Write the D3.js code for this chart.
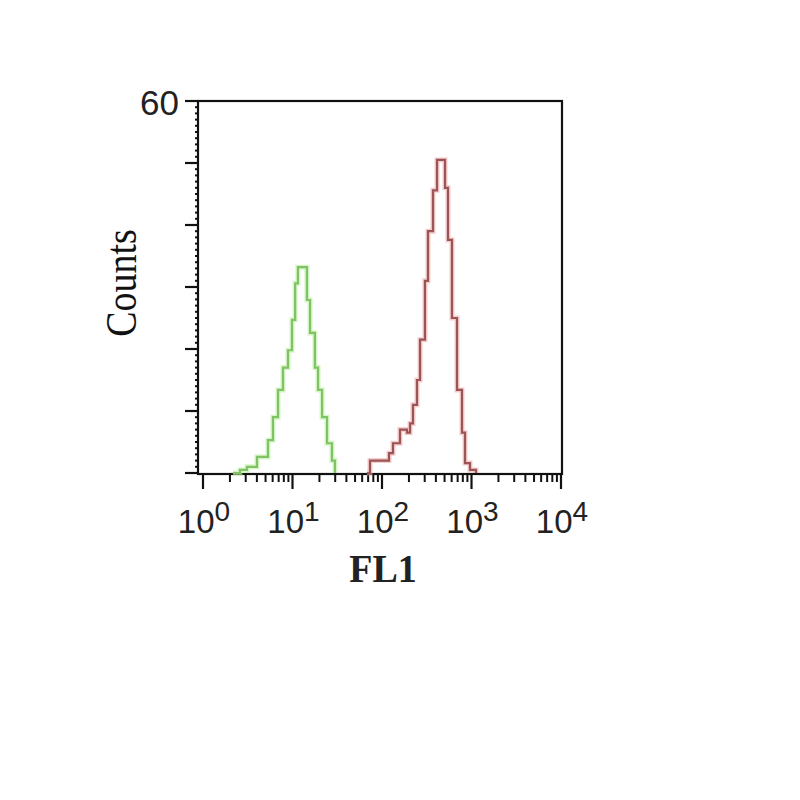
<!DOCTYPE html>
<html><head><meta charset="utf-8">
<script src="https://cdn.jsdelivr.net/npm/d3@7"></script>
<style>body{margin:0;background:#fff}svg{display:block}</style>
</head><body>
<script>
// Green (control) histogram: FL1 channel at each step, counts after the step
const greenFL1 = [2.16, 2.59, 3.10, 4.01, 5.32, 6.05, 6.89, 7.83, 8.91, 9.87, 10.7, 11.5, 14.5, 15.7, 17.8, 19.3, 21.4, 24.3, 27.6, 29.8];
const greenCounts = [0, 0.5, 1, 2.6, 5.3, 9, 13.4, 17, 19.8, 24.7, 30.6, 33.2, 27.9, 22.6, 17, 13.4, 9, 4.8, 2, 0];
// Red (stained) histogram
const redFL1 = [68.0, 73.4, 119.7, 132.6, 158.8, 190, 205.6, 221.9, 246, 266, 302, 326.5, 371.5, 412, 506, 546, 605, 689, 783, 846, 962, 1122];
const redCounts = [0, 2, 3.2, 4.8, 7, 6.5, 8, 11, 15, 21.5, 31, 39, 45.6, 50.5, 46, 37.6, 25, 13.4, 6.5, 1.6, 0.5, 0];
const xDecades = [1, 10, 100, 1000, 10000];
const xExponents = ["0", "1", "2", "3", "4"];
const yLabelTicks = [60];

const W = 800, H = 800;
const svg = d3.select("body").append("svg").attr("width", W).attr("height", H);

const frame = {left: 198, right: 562, top: 101, bottom: 474};
const x = d3.scaleLog().domain([1, 10000]).range([203, 561]);
const y = d3.scaleLinear().domain([0, 60]).range([473, 101]);

// Frame
svg.append("rect").attr("x", frame.left).attr("y", frame.top)
  .attr("width", frame.right - frame.left).attr("height", frame.bottom - frame.top)
  .attr("fill", "none").attr("stroke", "#111").attr("stroke-width", 2.2);

// X ticks
const xMinor = [];
for (let d = 0; d < 4; d++) for (let m = 2; m <= 9; m++) xMinor.push(xDecades[d] * m);
svg.append("g").selectAll("line.minor").data(xMinor).join("line")
  .attr("x1", d => x(d)).attr("x2", d => x(d))
  .attr("y1", frame.bottom).attr("y2", frame.bottom + 8)
  .attr("stroke", "#111").attr("stroke-width", 2);
svg.append("g").selectAll("line.major").data(xDecades).join("line")
  .attr("x1", d => x(d)).attr("x2", d => x(d))
  .attr("y1", frame.bottom).attr("y2", frame.bottom + 15)
  .attr("stroke", "#111").attr("stroke-width", 2.2);

// X tick labels 10^n
const xl = svg.append("g").selectAll("text").data(xDecades).join("text")
  .attr("x", d => x(d) + 1).attr("y", 533)
  .attr("text-anchor", "middle")
  .attr("font-family", "Liberation Sans, Arial, sans-serif")
  .attr("font-size", 33).attr("fill", "#222");
xl.append("tspan").text("10");
xl.append("tspan").attr("font-size", 28).attr("dy", -12).text((d, i) => xExponents[i]);

// Y ticks
const yMinor = d3.range(0, 61, 1).filter(v => v % 10 !== 0);
svg.append("g").selectAll("line").data(yMinor).join("line")
  .attr("x1", frame.left - 3).attr("x2", frame.left)
  .attr("y1", d => y(d)).attr("y2", d => y(d))
  .attr("stroke", "#111").attr("stroke-width", 2);
svg.append("g").selectAll("line").data(d3.range(0, 61, 10)).join("line")
  .attr("x1", frame.left - 13).attr("x2", frame.left)
  .attr("y1", d => y(d)).attr("y2", d => y(d))
  .attr("stroke", "#111").attr("stroke-width", 2.2);
svg.append("g").selectAll("text").data(yLabelTicks).join("text")
  .attr("x", 179).attr("y", d => y(d) + 14)
  .attr("text-anchor", "end")
  .attr("font-family", "Liberation Sans, Arial, sans-serif")
  .attr("font-size", 35).attr("fill", "#222").text(d => d);

// Axis titles
svg.append("text")
  .attr("transform", "translate(136,283) rotate(-90) scale(1,1.15)")
  .attr("text-anchor", "middle")
  .attr("font-family", "Liberation Serif, Times New Roman, serif")
  .attr("font-size", 38).attr("fill", "#111").text("Counts");
svg.append("text")
  .attr("transform", "translate(383,582) scale(1,1.08)")
  .attr("text-anchor", "middle")
  .attr("font-family", "Liberation Serif, Times New Roman, serif")
  .attr("font-weight", "bold")
  .attr("font-size", 38).attr("fill", "#222").text("FL1");

// Histograms
const line = d3.line().x(d => x(d[0])).y(d => y(d[1])).curve(d3.curveStepAfter);
function drawHist(fl, counts, halo, core) {
  const pts = fl.map((v, i) => [v, counts[i]]);
  const g = svg.append("g");
  g.append("path").attr("d", line(pts)).attr("fill", "none")
    .attr("stroke", halo).attr("stroke-width", 5).attr("stroke-opacity", 0.6);
  g.append("path").attr("d", line(pts)).attr("fill", "none")
    .attr("stroke", core).attr("stroke-width", 2.2);
}
drawHist(greenFL1, greenCounts, "#b8f09c", "#82c266");
drawHist(redFL1, redCounts, "#f0a8a8", "#9a5656");
</script>
</body></html>
